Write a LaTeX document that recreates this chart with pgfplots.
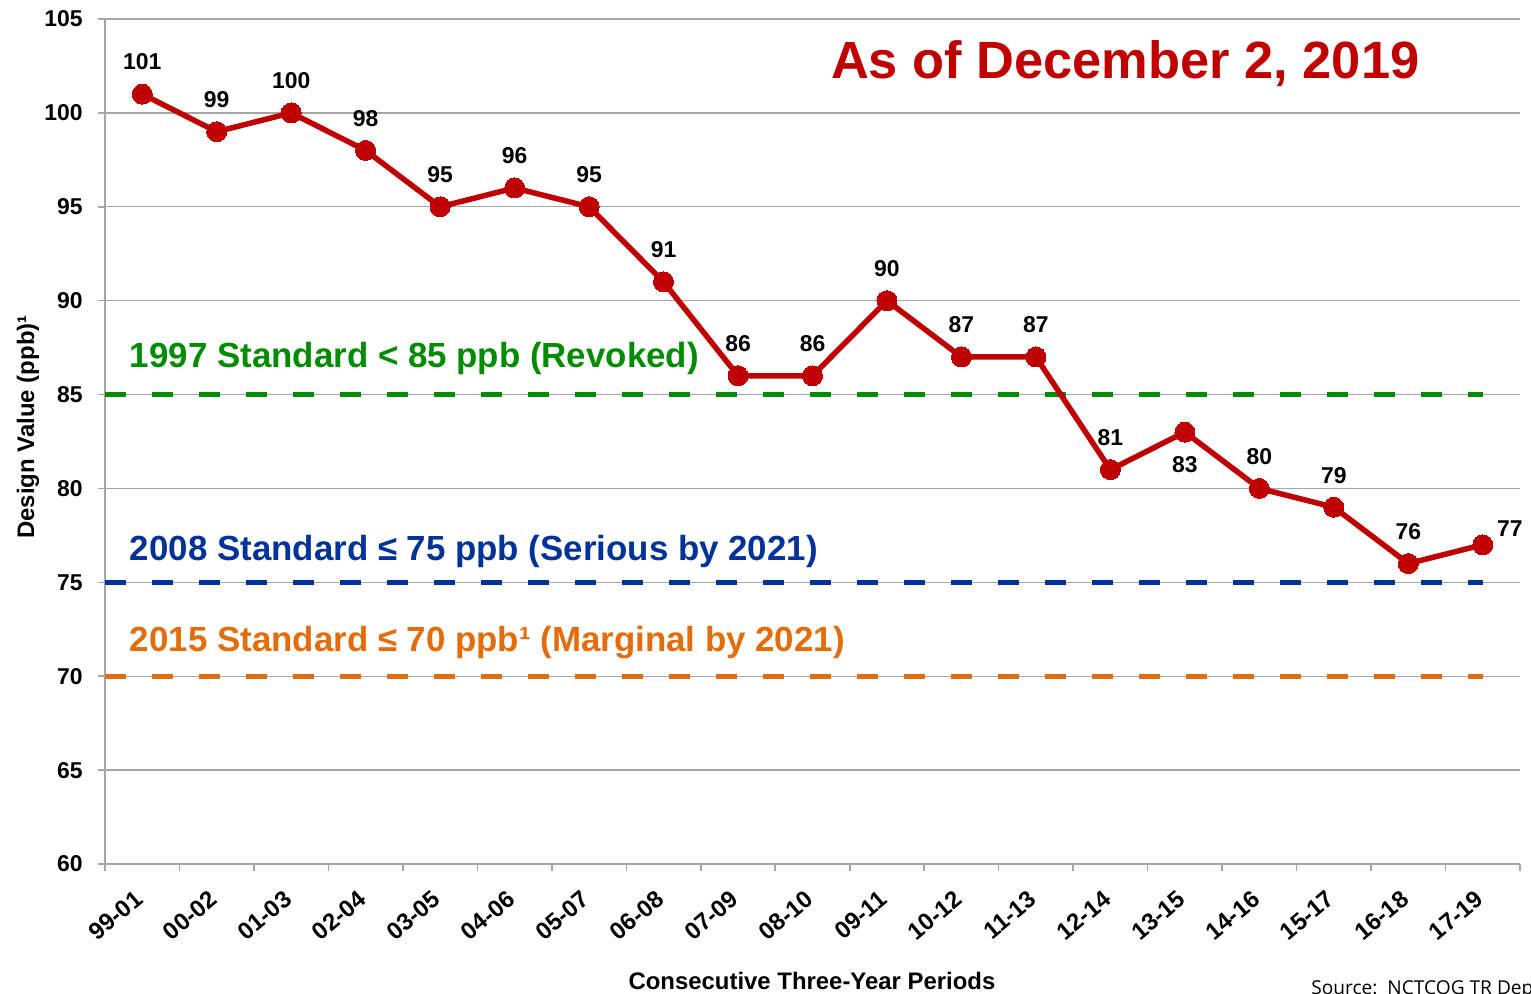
\documentclass[border=0pt]{standalone}
\usepackage{pgfplots}
\pgfplotsset{compat=1.18}
\usepackage{fontspec}
\setmainfont{Liberation Sans}
\newfontfamily\srcfont{Open Sans}
\usetikzlibrary{calc}
\definecolor{dvred}{RGB}{192,0,0}
\definecolor{stdgreen}{RGB}{0,140,0}
\definecolor{stdblue}{RGB}{0,51,153}
\definecolor{stdorange}{RGB}{228,108,10}
\definecolor{gridgray}{RGB}{166,166,166}

\pgfplotstableread{
x y label
0 101 101
1 99 99
2 100 100
3 98 98
4 95 95
5 96 96
6 95 95
7 91 91
8 86 86
9 86 86
10 90 90
11 87 87
12 87 87
13 81 81
14 83 83
15 80 80
16 79 79
17 76 76
18 77 77
}\dvdata

\pgfplotstableread{
x y label
0 101 101
1 99 99
2 100 100
3 98 98
4 95 95
5 96 96
6 95 95
7 91 91
8 86 86
9 86 86
10 90 90
11 87 87
12 87 87
13 81 81
15 80 80
16 79 79
17 76 76
}\labelsabove

\pgfplotstableread{
x y label
14 83 83
}\labelsbelow

\pgfplotstableread{
x y label
18 77 77
}\labelsright

\begin{document}
\begin{tikzpicture}
\begin{axis}[
  name=ax, at={(0,0)}, anchor=south west,
  scale only axis, width=707.5bp, height=422.5bp,
  xmin=-0.5, xmax=18.5, ymin=60, ymax=105,
  clip=false,
  axis x line*=bottom, axis y line*=left,
  axis line style={-, draw=gridgray, line width=0.8bp},
  ytick={60,65,...,105},
  ymajorgrids,
  grid style={draw=gridgray, line width=0.7bp},
  xtick={0,...,18},
  xticklabels={99-01,00-02,01-03,02-04,03-05,04-06,05-07,06-08,07-09,08-10,09-11,10-12,11-13,12-14,13-15,14-16,15-17,16-18,17-19},
  minor xtick={-0.5,0.5,...,18.5},
  major x tick style={draw=none},
  minor x tick style={draw=gridgray, line width=0.8bp},
  ytick style={draw=gridgray, line width=0.8bp},
  tick align=outside,
  major tick length=3.5bp,
  minor tick length=3.5bp,
  /pgf/number format/assume math mode=true,
  ticklabel style={font=\bfseries\fontsize{11.5}{13}\selectfont, text=black},
  xticklabel style={rotate=40, anchor=north east, inner sep=0pt, yshift=-4bp, xshift=-9bp, font=\bfseries\fontsize{12}{13}\selectfont},
  yticklabel style={inner sep=0pt, xshift=-7.5bp},
]
\addplot[stdgreen, line width=2.3bp, dash pattern=on 10.5bp off 13bp] coordinates {(-0.5,85) (18,85)};
\addplot[stdblue, line width=2.3bp, dash pattern=on 10.5bp off 13bp] coordinates {(-0.5,75) (18,75)};
\addplot[stdorange, line width=2.3bp, dash pattern=on 10.5bp off 13bp] coordinates {(-0.5,70) (18,70)};

\addplot[dvred, line width=2.75bp, mark=*, mark size=5bp, mark options={fill=dvred, draw=dvred, line width=0pt, solid}] table[x=x, y=y] {\dvdata};

\addplot[only marks, mark=none, point meta=explicit symbolic, nodes near coords,
  every node near coord/.append style={anchor=center, yshift=16bp, text=black, font=\bfseries\fontsize{11.5}{13}\selectfont}]
  table[x=x, y=y, meta=label] {\labelsabove};
\addplot[only marks, mark=none, point meta=explicit symbolic, nodes near coords,
  every node near coord/.append style={anchor=center, yshift=-16.5bp, text=black, font=\bfseries\fontsize{11.5}{13}\selectfont}]
  table[x=x, y=y, meta=label] {\labelsbelow};
\addplot[only marks, mark=none, point meta=explicit symbolic, nodes near coords,
  every node near coord/.append style={anchor=center, xshift=13.5bp, yshift=8bp, text=black, font=\bfseries\fontsize{11.5}{13}\selectfont}]
  table[x=x, y=y, meta=label] {\labelsright};

\node[anchor=west, inner sep=0pt, text=stdgreen, font=\bfseries\fontsize{17.5}{20}\selectfont] at (axis cs:-0.17,86.9) {1997 Standard < 85 ppb (Revoked)};
\node[anchor=west, inner sep=0pt, text=stdblue, font=\bfseries\fontsize{17.5}{20}\selectfont] at (axis cs:-0.17,76.65) {2008 Standard ≤ 75 ppb (Serious by 2021)};
\node[anchor=west, inner sep=0pt, text=stdorange, font=\bfseries\fontsize{17.5}{20}\selectfont] at (axis cs:-0.17,71.8) {2015 Standard ≤ 70 ppb¹ (Marginal by 2021)};
\node[text=dvred, font=\bfseries\fontsize{26.3}{30}\selectfont] at (axis cs:13.2,102.6) {As of December 2, 2019};
\end{axis}
\node[rotate=90, font=\bfseries\fontsize{12}{14}\selectfont] at (-38.5bp,218.5bp) {Design Value (ppb)¹};
\node[font=\bfseries\fontsize{12}{14}\selectfont] at (353.5bp,-58.5bp) {Consecutive Three-Year Periods};
\node[anchor=north west, inner sep=0pt, font=\srcfont\fontsize{9.6}{12}\selectfont] at (603bp,-58bp) {Source:\ \ NCTCOG TR Department};
\pgfresetboundingbox
\path[use as bounding box] (-52.5bp,-65bp) rectangle (713bp,432bp);
\end{tikzpicture}
\end{document}
